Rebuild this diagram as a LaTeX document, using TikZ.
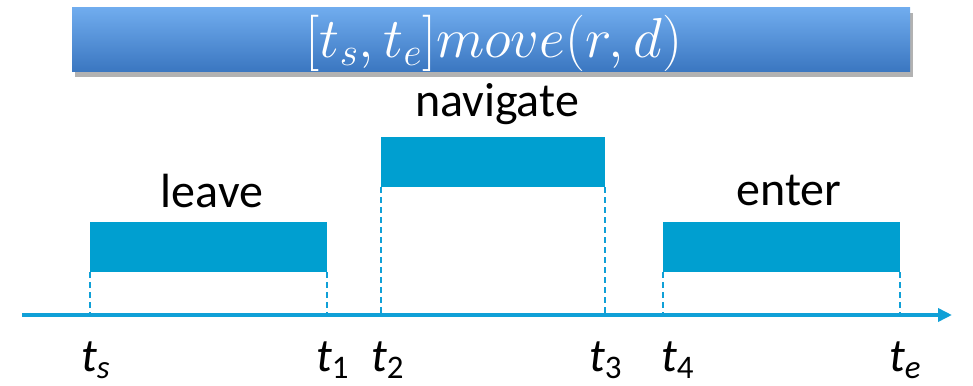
\RequirePackage{fix-cm}
\documentclass[tikz,border=0pt]{standalone}
\usepackage{fontspec}
\setmainfont{Carlito}
\usepackage{graphicx}
\usetikzlibrary{shadows,arrows.meta}
\definecolor{barblue}{RGB}{0,159,208}
\definecolor{axisblue}{RGB}{16,160,215}
\definecolor{titletop}{RGB}{112,172,238}
\definecolor{titlebot}{RGB}{58,118,192}
\begin{document}
\begin{tikzpicture}[x=1pt,y=-1pt,
  bar/.style={fill=barblue,draw=none},
  tick/.style={draw=axisblue,line width=2.8pt,dash pattern=on 6pt off 4pt},
  lbl/.style={font=\fontsize{48}{50}\selectfont,text=black,anchor=base,inner sep=0pt},
  tlbl/.style={font=\fontsize{47}{48}\selectfont\itshape,text=black,anchor=base west,inner sep=0pt},
  titlebox/.style={top color=titletop,bottom color=titlebot,draw=none,
     drop shadow={shadow xshift=3pt,shadow yshift=-5pt,fill=black!60,opacity=0.5}}]
\useasboundingbox (0,0) rectangle (973,385);
% title
\node[titlebox,minimum width=838pt,minimum height=64pt,inner sep=0pt] (title) at (491,40) {};
\node[text=white,font=\fontsize{40}{44}\selectfont,inner sep=0pt] (ttext) at (494,43) {\scalebox{1.41}{$[t_s,t_e]move(r,d)$}};
% bars
\path[bar] (90,222) rectangle (327,272) coordinate (leaveBR);
\coordinate (leaveBL) at (90,272);
\path[bar] (381,137) rectangle (605,187) coordinate (navBR);
\coordinate (navBL) at (381,187);
\path[bar] (663,222) rectangle (900,272) coordinate (entBR);
\coordinate (entBL) at (663,272);
% labels
\node[lbl] (leave) at (212,207) {leave};
\node[lbl] (nav) at (497,117) {navigate};
\node[lbl] (enter) at (789,205) {enter};
% axis
\coordinate (a0) at (22,315);
\coordinate (a1) at (952,315);
\draw[draw=axisblue,line width=3.5pt,-{Triangle[length=14pt,width=13pt]}] (a0) -- (a1);
% axis points
\coordinate (ps) at (90,315);
\coordinate (p1) at (327,315);
\coordinate (p2) at (381,315);
\coordinate (p3) at (605,315);
\coordinate (p4) at (663,315);
\coordinate (pe) at (900,315);
\draw[tick] (leaveBL) -- (ps);
\draw[tick] (leaveBR) -- (p1);
\draw[tick] (navBL) -- (p2);
\draw[tick] (navBR) -- (p3);
\draw[tick] (entBL) -- (p4);
\draw[tick] (entBR) -- (pe);
% time labels
\node[tlbl] (ts) at (81,371) {t\textsubscript{\normalfont\itshape s}};
\node[tlbl] (t1) at (316,371) {t\textsubscript{\normalfont 1}};
\node[tlbl] (t2) at (371,371) {t\textsubscript{\normalfont 2}};
\node[tlbl] (t3) at (589,371) {t\textsubscript{\normalfont 3}};
\node[tlbl] (t4) at (661,371) {t\textsubscript{\normalfont 4}};
\node[tlbl] (te) at (889,371) {t\textsubscript{\normalfont\itshape e}};
\end{tikzpicture}
\end{document}
